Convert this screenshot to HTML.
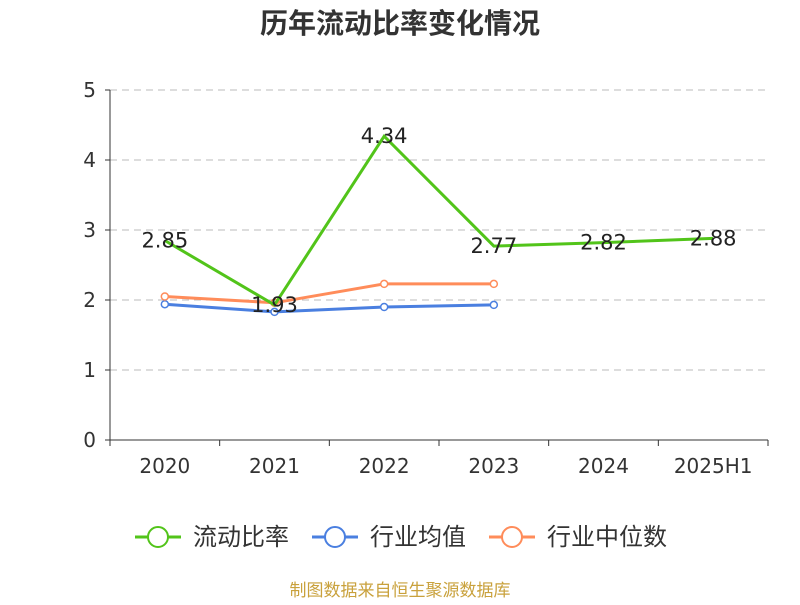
<!DOCTYPE html>
<html><head><meta charset="utf-8"><style>
body{margin:0;background:#fff;width:800px;height:600px;overflow:hidden}
svg text{font-family:"DejaVu Sans","Noto Sans CJK SC",sans-serif}
</style></head><body>
<svg id="c" width="800" height="600" xmlns="http://www.w3.org/2000/svg">
<text x="400" y="33" text-anchor="middle" font-size="28" font-weight="bold" fill="#333">历年流动比率变化情况</text>
<g id="grid"></g>
<g id="axes"></g>
<g id="series"></g>
<g id="legend"></g>
<text x="400" y="596" text-anchor="middle" font-size="17" fill="#c9a13c">制图数据来自恒生聚源数据库</text>
</svg>
<script>
const categories=["2020","2021","2022","2023","2024","2025H1"];
const ratioValues=[2.85,1.93,4.34,2.77,2.82,2.88];
const industryAvg=[1.94,1.83,1.90,1.93,null,null];
const industryMedian=[2.05,1.96,2.23,2.23,null,null];
const yTicks=[0,1,2,3,4,5];
const seriesNames=["流动比率","行业均值","行业中位数"];
const NS="http://www.w3.org/2000/svg";
const L=110,R=768,T=90,B=440,yMax=5;
const bw=(R-L)/categories.length;
const xS=i=>L+bw*(i+0.5);
const yS=v=>B-(v/yMax)*(B-T);
function mk(tag,attrs,parent,text){const e=document.createElementNS(NS,tag);for(const k in attrs)e.setAttribute(k,attrs[k]);if(text!=null)e.textContent=text;parent.appendChild(e);return e;}
const grid=document.getElementById('grid'),axes=document.getElementById('axes'),series=document.getElementById('series'),legend=document.getElementById('legend');
yTicks.forEach(t=>{
 if(t>0){const g=mk('line',{x1:L,x2:R,y1:yS(t),y2:yS(t),stroke:'#bbb','stroke-dasharray':'7,5'},grid);
 }
 const tk=mk('line',{x1:L-5,x2:L,y1:yS(t),y2:yS(t),stroke:'#333'},axes);
 
 const lb=mk('text',{x:L-14,y:yS(t)+7,'text-anchor':'end','font-size':20,fill:'#333'},axes,String(t));
 
});
const ya=mk('line',{x1:L,x2:L,y1:T,y2:B,stroke:'#333'},axes);

const xa=mk('line',{x1:L,x2:R,y1:B,y2:B,stroke:'#333'},axes);

for(let i=0;i<=categories.length;i++){const tk=mk('line',{x1:L+bw*i,x2:L+bw*i,y1:B,y2:B+6,stroke:'#333'},axes);
 }
categories.forEach((c,i)=>{const lb=mk('text',{x:xS(i),y:B+33,'text-anchor':'middle','font-size':20,fill:'#333'},axes,c);
 });
function drawLine(vals,color,name,markers,labels){
 const pts=vals.map((v,i)=>v==null?null:[xS(i),yS(v)]).filter(p=>p);
 const pl=mk('polyline',{points:pts.map(p=>p.join(',')).join(' '),fill:'none',stroke:color,'stroke-width':3},series);
 
 if(markers)pts.forEach(p=>{const c=mk('circle',{cx:p[0],cy:p[1],r:3.5,fill:'#fff',stroke:color,'stroke-width':1.5},series);
  });
 if(labels)vals.forEach((v,i)=>{if(v==null)return;const t=mk('text',{x:xS(i),y:yS(v)+7,'text-anchor':'middle','font-size':21,fill:'#222'},series,v.toFixed(2));
  });
}
drawLine(industryAvg,'#4a7fe0','industry-average',true,false);
drawLine(industryMedian,'#ff8c5a','industry-median',true,false);
drawLine(ratioValues,'#52c41a','current-ratio',false,true);
const colors=['#52c41a','#4a7fe0','#ff8c5a'];
const lx=[135,312,489];
seriesNames.forEach((n,i)=>{
 const g=mk('g',{},legend);
 mk('line',{x1:lx[i],x2:lx[i]+46,y1:537,y2:537,stroke:colors[i],'stroke-width':3},g);
 mk('circle',{cx:lx[i]+23,cy:537,r:10,fill:'#fff',stroke:colors[i],'stroke-width':2},g);
 mk('text',{x:lx[i]+58,y:545,'font-size':24,fill:'#333'},g,n);
});
</script>
</body></html>
